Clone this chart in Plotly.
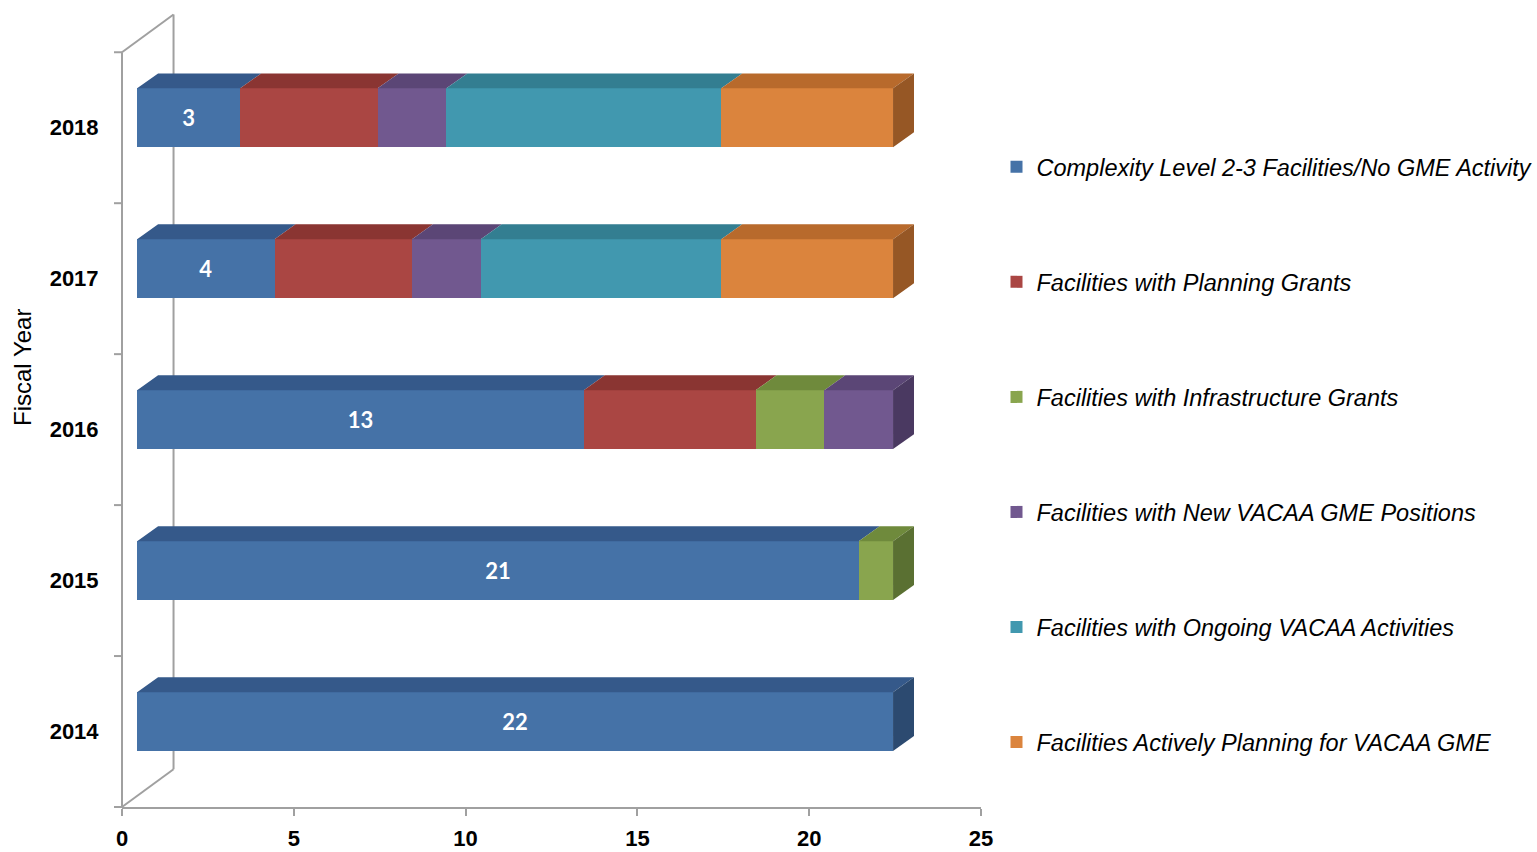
import plotly.graph_objects as go

# ---------------- data ----------------
years = ["2014", "2015", "2016", "2017", "2018"]
series_names = [
    "Complexity Level 2-3 Facilities/No GME Activity",
    "Facilities with Planning Grants",
    "Facilities with Infrastructure Grants",
    "Facilities with New VACAA GME Positions",
    "Facilities with Ongoing VACAA Activities",
    "Facilities Actively Planning for VACAA GME",
]
complexity = [22, 21, 13, 4, 3]
planning_grants = [0, 0, 5, 4, 4]
infrastructure_grants = [0, 1, 2, 0, 0]
new_positions = [0, 0, 2, 2, 2]
ongoing_activities = [0, 0, 0, 7, 8]
actively_planning = [0, 0, 0, 5, 5]
series_values = [complexity, planning_grants, infrastructure_grants,
                 new_positions, ongoing_activities, actively_planning]
x_tick_values = [0, 5, 10, 15, 20, 25]

# ---------------- style ----------------
front_colors = ["#4572A7", "#AA4643", "#89A54E", "#71588F", "#4198AF", "#DB843D"]
top_colors = ["#35598A", "#8A3532", "#6F8A3C", "#5B4676", "#337E91", "#B86A2C"]
side_colors = ["#2C4A70", "#6F2A28", "#5A7032", "#4A3961", "#296677", "#965725"]
axis_gray = "#A0A0A0"
narrow = "Liberation Sans Narrow, Arial Narrow, Liberation Sans, sans-serif"

W, H = 1537, 852
M_L, M_R, M_T, M_B = 122, 556, 13, 45
PLOT_W = W - M_L - M_R
PLOT_H = H - M_T - M_B

X_RANGE = [0, 25]
Y_RANGE = [-0.5, 4.76]
BAR_SHIFT_X = 0.44     # 3-D depth shift of the bar front faces
BAR_SHIFT_Y = 0.066
BAR_W = 0.39
DEPTH_X = 0.61         # depth of the bar top / side faces
DEPTH_Y = 0.099
WALL_X = 1.5           # depth of the back wall
WALL_Y = 0.25
Y_TICK_PX = 8

idx = list(range(len(years)))

fig = go.Figure()

# invisible anchor trace so that the visible main axes (x / y) are drawn
fig.add_trace(go.Scatter(
    x=[X_RANGE[0]], y=[Y_RANGE[0]], mode="markers", marker=dict(opacity=0),
    showlegend=False, hoverinfo="skip",
))

cum = [0.0] * len(years)
last_series = []
for i in idx:
    last = 0
    for s, vals in enumerate(series_values):
        if vals[i] > 0:
            last = s
    last_series.append(last)

for s, vals in enumerate(series_values):
    bar_kwargs = {}
    if s == 0:
        bar_kwargs = dict(
            text=vals, texttemplate="%{x}", textposition="inside",
            insidetextanchor="middle", textangle=0,
            textfont=dict(color="white", size=22, family="Lato, Open Sans, sans-serif", weight="bold"),
        )
    fig.add_trace(go.Bar(
        x=vals, y=idx, orientation="h", xaxis="x2", yaxis="y2",
        width=BAR_W, name=series_names[s], legendgroup=series_names[s],
        marker=dict(color=front_colors[s], line=dict(width=0)),
        hoverinfo="x+name", **bar_kwargs,
    ))
    # top faces and right side faces
    tx, ty, sx, sy = [], [], [], []
    for i in idx:
        v = vals[i]
        if v <= 0:
            continue
        x0, x1 = cum[i], cum[i] + v
        yt = i + BAR_W / 2
        yb = i - BAR_W / 2
        tx += [x0, x1, x1 + DEPTH_X, x0 + DEPTH_X, x0, None]
        ty += [yt, yt, yt + DEPTH_Y, yt + DEPTH_Y, yt, None]
        if last_series[i] == s:
            sx += [x1, x1, x1 + DEPTH_X, x1 + DEPTH_X, x1, None]
            sy += [yb, yt, yt + DEPTH_Y, yb + DEPTH_Y, yb, None]
        cum[i] = x1
    if tx:
        fig.add_trace(go.Scatter(
            x=tx, y=ty, xaxis="x2", yaxis="y2", mode="lines", fill="toself",
            fillcolor=top_colors[s], line=dict(width=0, color=top_colors[s]),
            showlegend=False, legendgroup=series_names[s], hoverinfo="skip",
        ))
    if sx:
        fig.add_trace(go.Scatter(
            x=sx, y=sy, xaxis="x2", yaxis="y2", mode="lines", fill="toself",
            fillcolor=side_colors[s], line=dict(width=0, color=side_colors[s]),
            showlegend=False, legendgroup=series_names[s], hoverinfo="skip",
        ))


def px(x):
    return (x - X_RANGE[0]) / (X_RANGE[1] - X_RANGE[0])


def py(y):
    return (y - Y_RANGE[0]) / (Y_RANGE[1] - Y_RANGE[0])


y_lo, y_hi = -0.5, len(years) - 0.5
wall = [
    ((0, y_lo), (0, y_hi)),
    ((0, y_hi), (WALL_X, y_hi + WALL_Y)),
    ((WALL_X, y_hi + WALL_Y), (WALL_X, y_lo + WALL_Y)),
    ((WALL_X, y_lo + WALL_Y), (0, y_lo)),
]
shapes = [
    dict(type="line", xref="paper", yref="paper",
         x0=px(a[0]), y0=py(a[1]), x1=px(b[0]), y1=py(b[1]),
         line=dict(color=axis_gray, width=2), layer="below")
    for a, b in wall
]
# category-boundary tick marks on the category axis
for k in range(len(years) + 1):
    yb = k - 0.5
    shapes.append(dict(type="line", xref="paper", yref="paper",
                       x0=px(0) - Y_TICK_PX / PLOT_W, x1=px(0),
                       y0=py(yb), y1=py(yb),
                       line=dict(color=axis_gray, width=2), layer="below"))

fig.update_layout(
    width=W, height=H,
    margin=dict(l=M_L, r=M_R, t=M_T, b=M_B, autoexpand=False),
    paper_bgcolor="white", plot_bgcolor="rgba(0,0,0,0)",
    barmode="stack",
    shapes=shapes,
    showlegend=True,
    legend=dict(
        xref="container", yref="container",
        x=996.5 / W, xanchor="left", y=1 - 145 / H, yanchor="top",
        traceorder="grouped", tracegroupgap=81.5, maxheight=800,
        font=dict(family=narrow, size=23.5, style="italic", color="black"),
        bgcolor="rgba(0,0,0,0)",
    ),
    xaxis=dict(
        range=X_RANGE, tickvals=x_tick_values, showgrid=False, zeroline=False,
        showline=True, linecolor=axis_gray, linewidth=2,
        ticks="outside", ticklen=7, tickwidth=2, tickcolor=axis_gray,
        ticklabelstandoff=4,
        tickfont=dict(family=narrow, size=22, color="black", weight="bold"),
    ),
    yaxis=dict(
        range=Y_RANGE, tickvals=idx, ticktext=years, showgrid=False, zeroline=False,
        showline=False, ticks="outside", ticklen=18, tickcolor="rgba(0,0,0,0)",
        tickfont=dict(family=narrow, size=22, color="black", weight="bold"),
    ),
    xaxis2=dict(overlaying="x", range=[X_RANGE[0] - BAR_SHIFT_X, X_RANGE[1] - BAR_SHIFT_X],
                visible=False),
    yaxis2=dict(overlaying="y", range=[Y_RANGE[0] - BAR_SHIFT_Y, Y_RANGE[1] - BAR_SHIFT_Y],
                visible=False),
    annotations=[dict(
        text="Fiscal Year", textangle=-90, showarrow=False,
        xref="paper", yref="paper", x=(22 - M_L) / PLOT_W, y=(H - M_B - 368) / PLOT_H,
        xanchor="center", yanchor="middle",
        font=dict(family=narrow, size=24, color="black"),
    )],
)

fig.write_html("out.html")
